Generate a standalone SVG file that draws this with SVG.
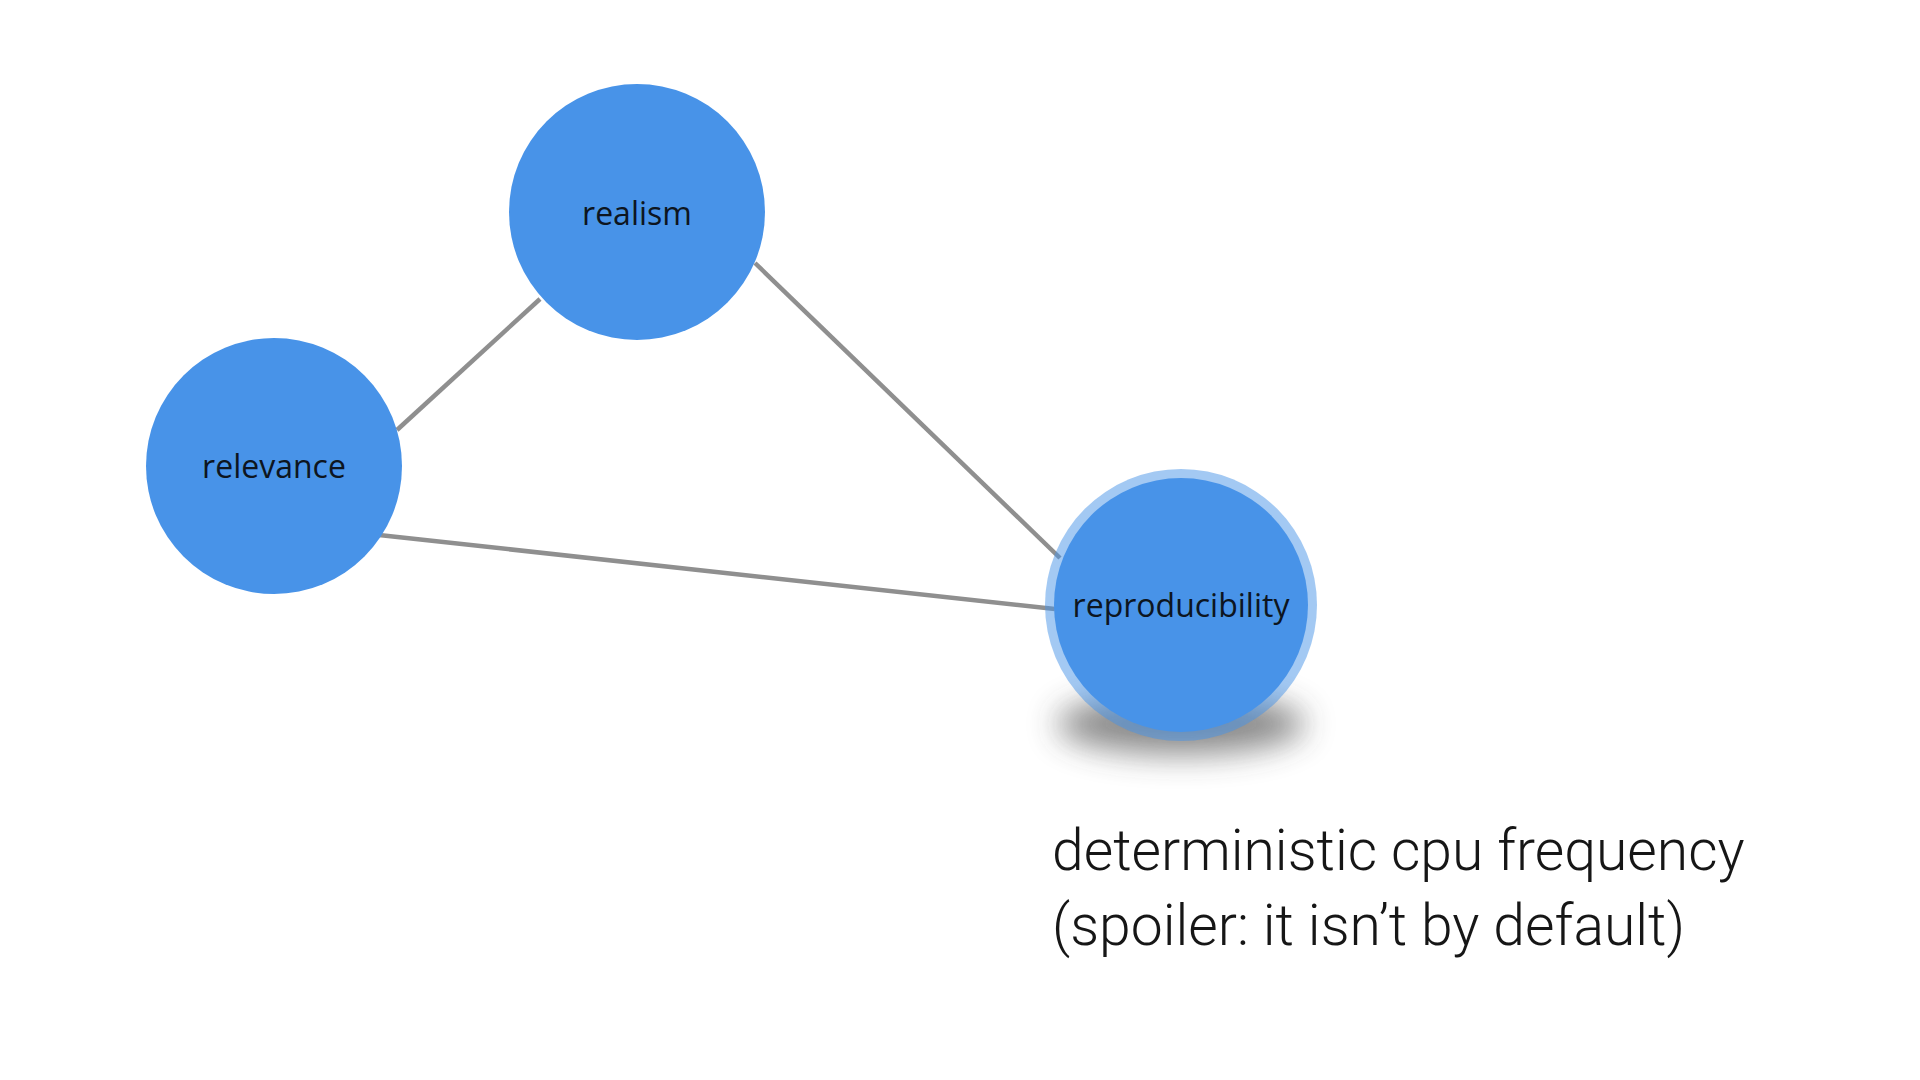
<svg xmlns="http://www.w3.org/2000/svg" width="1920" height="1080" viewBox="0 0 1920 1080">
  <defs>
    <style>
      .node { fill: #4893e8; }
      .label { font-family: "Open Sans", "Noto Sans", sans-serif; font-size: 32px; fill: #0d1520; text-anchor: middle; }
      .edge { stroke: #8f8f8f; stroke-width: 4.5; stroke-linecap: butt; fill: none; }
      .caption { font-family: Roboto, "Liberation Sans", sans-serif; font-weight: 300; font-size: 57px; fill: #161616; }
    </style>
    <filter id="blur" x="-50%" y="-150%" width="200%" height="400%">
      <feGaussianBlur stdDeviation="16"/>
    </filter>
  </defs>
  <rect width="1920" height="1080" fill="#ffffff"/>
  <g id="connectors">
    <line class="edge" x1="397" y1="430" x2="540" y2="299"/>
    <line class="edge" x1="755" y1="263" x2="1060" y2="558"/>
    <line class="edge" x1="379" y1="535" x2="1055" y2="609"/>
  </g>
  <g id="node-realism">
    <circle class="node" cx="637" cy="212" r="128"/>
    <text class="label" x="637" y="225">realism</text>
  </g>
  <g id="node-relevance">
    <circle class="node" cx="274" cy="466" r="128"/>
    <text class="label" x="274" y="478">relevance</text>
  </g>
  <g id="node-reproducibility">
    <ellipse cx="1181" cy="724" rx="124" ry="30" fill="#3a3a3a" opacity="0.6" filter="url(#blur)"/>
    <circle cx="1181" cy="605" r="136" fill="#4893e8" fill-opacity="0.5"/>
    <circle class="node" cx="1181" cy="605" r="127"/>
    <text class="label" x="1181" y="617">reproducibility</text>
  </g>
  <g id="caption">
    <text class="caption" x="1052" y="870">deterministic cpu frequency</text>
    <text class="caption" x="1052" y="945">(spoiler: it isn’t by default)</text>
  </g>
</svg>
